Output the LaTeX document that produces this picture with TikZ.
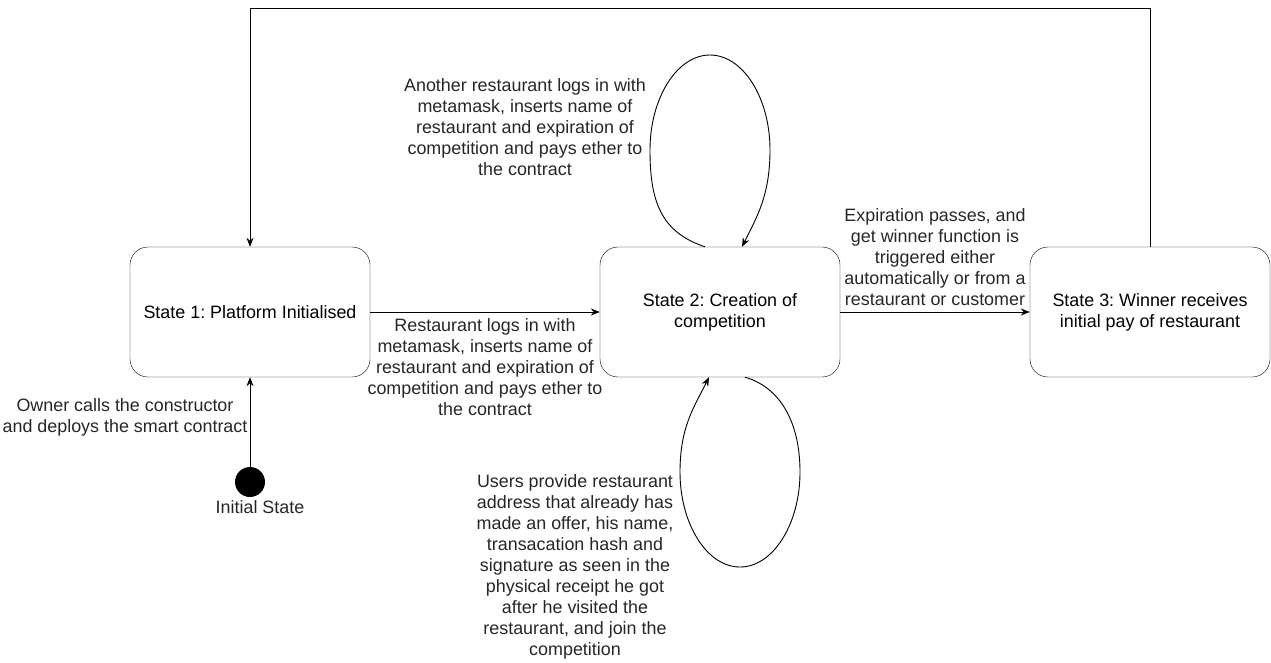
\documentclass[tikz,border=0pt]{standalone}
\usepackage{fontspec}
\setmainfont{Liberation Sans}
\usetikzlibrary{arrows.meta}
\frenchspacing

\tikzset{
  state/.style={draw, rounded corners=18pt, minimum width=240pt, minimum height=130pt, inner sep=0pt, align=center},
  lbl/.style={align=center, inner sep=0pt, text=black!85},
  conn/.style={-{Stealth[length=9pt,width=7pt]}, line width=0.9pt}
}

\begin{document}
\begin{tikzpicture}[x=1pt, y=-1pt, font=\fontsize{17.9}{21}\selectfont]
\useasboundingbox (0,0) rectangle (1271,662);

\node[state] (s1) at (250,312) {State 1: Platform Initialised};
\node[state] (s2) at (720,312) {State 2: Creation of\\competition};
\node[state] (s3) at (1150,312) {State 3: Winner receives\\initial pay of restaurant};

\fill (250,482) circle (15pt) coordinate (init);
\node[lbl] (initlbl) at (260,507) {Initial State};

\draw[conn] ([yshift=-15pt]init) -- (s1.south);
\node[lbl] (ownerlbl) at (125,417) {Owner calls the constructor\\and deploys the smart contract};

\draw[conn] (s1.east) -- (s2.west);
\node[lbl] (restlbl) at (485,367) {Restaurant logs in with\\metamask, inserts name of\\restaurant and expiration of\\competition and pays ether to\\the contract};

\draw[conn] (s2.east) -- (s3.west);
\node[lbl] (expirelbl) at (935,257) {Expiration passes, and\\get winner function is\\triggered either\\automatically or from a\\restaurant or customer};

\coordinate (top3) at (1150,8);
\coordinate (top1) at (250,8);
\draw[conn] (s3.north) -- (top3) -- (top1) -- (s1.north);

% self loops on state 2
\draw[conn] ([xshift=-15pt]s2.north) .. controls +(-45,-15) and +(0,50) .. (650,150)
  .. controls +(0,-52) and +(-33,0) .. (710,55)
  .. controls +(33,0) and +(0,-52) .. (770,150)
  .. controls +(0,45) and +(15,-30) .. ([xshift=22pt]s2.north);
\node[lbl] (anotherlbl) at (525,127) {Another restaurant logs in with\\metamask, inserts name of\\restaurant and expiration of\\competition and pays ether to\\the contract};

\draw[conn] ([xshift=25pt]s2.south) .. controls +(35,10) and +(0,-50) .. (800,472)
  .. controls +(0,52) and +(33,0) .. (740,567)
  .. controls +(-33,0) and +(0,52) .. (680,472)
  .. controls +(0,-45) and +(-15,30) .. ([xshift=-11pt]s2.south);
\node[lbl] (userlbl) at (575,567) {Users provide restaurant\\address that already has\\made an offer, his name,\\transacation hash and\\signature as seen in the\\physical receipt he got\\after he visited the\\restaurant, and join the\\competition};

\end{tikzpicture}
\end{document}
